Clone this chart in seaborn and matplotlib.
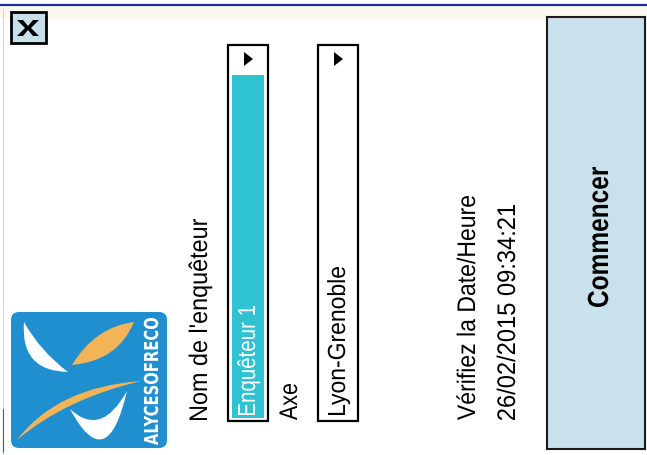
import numpy as np
import matplotlib
matplotlib.use("Agg")
import matplotlib.pyplot as plt
import seaborn as sns
from matplotlib.patches import Rectangle, Polygon, FancyBboxPatch, PathPatch
from matplotlib.path import Path
from matplotlib.textpath import TextPath
from matplotlib.font_manager import FontProperties
from matplotlib.transforms import Affine2D

# Textes de l'écran (formulaire tourné de 90°)
labels = ["Nom de l'enquêteur", "Axe", "Vérifiez la Date/Heure", "26/02/2015 09:34:21"]
label_x = [207, 297, 475, 515]
label_len = [201, 36, 224, 215]
dropdown_values = ["Enquêteur 1", "Lyon-Grenoble"]
dropdown_x = [228, 318]
dropdown_len = [109, 148]
dropdown_selected = [True, False]
button_text = "Commencer"
logo_text = "ALYCESOFRECO"

sns.set_theme(style="white")
plt.rcParams['font.family'] = ['Liberation Sans', 'DejaVu Sans']

fig = plt.figure(figsize=(6.47, 4.56), dpi=100)
ax = fig.add_axes([0, 0, 1, 1])
ax.set_xlim(0, 647)
ax.set_ylim(456, 0)
ax.axis('off')


# texte vertical (lu de bas en haut), étiré comme sur la capture
def vtext(s, xb, ybot, length, cap, color='black', weight='normal', family='Liberation Sans'):
    fp = FontProperties(family=family, weight=weight)
    tp = TextPath((0, 0), s, size=100, prop=fp)
    bb = tp.get_extents()
    hcap = TextPath((0, 0), 'H', size=100, prop=fp).get_extents().height
    sx = length / bb.width
    sy = cap / hcap
    m = np.array([[0, -sy, xb],
                  [-sx, 0, ybot + sx * bb.x0],
                  [0, 0, 1]])
    ax.add_patch(PathPatch(Affine2D(m).transform_path(tp), fc=color, ec='none', lw=0))


# bandeau du haut
ax.add_patch(Rectangle((0, 8), 647, 12, fc='#fcf8ef', ec='none'))
ax.plot([0, 647], [6, 6], color='#1c2c9c', lw=1.6)
ax.plot([3, 3], [10, 456], color='#d4d4d4', lw=0.8)
ax.plot([3, 3], [410, 453], color='#3a5cb8', lw=0.8)

# bouton fermer
ax.add_patch(Rectangle((11, 13), 35, 31, fc='#c8e0ea', ec='black', lw=2))
ax.add_patch(Polygon([(17, 21), (23, 21), (28, 27), (33, 21), (39, 21), (31, 29),
                      (39, 37), (33, 37), (28, 31), (23, 37), (17, 37), (25, 29)],
                     closed=True, fc='black', ec='none'))

# logo
ax.add_patch(FancyBboxPatch((15, 317), 148, 128, boxstyle='round,pad=4,rounding_size=8',
                            fc='#1f8fd0', ec='none'))


def swoosh(p0, c1, p1, c2, color):
    verts = [p0, c1, p1, c2, p0]
    codes = [Path.MOVETO, Path.CURVE3, Path.CURVE3, Path.CURVE3, Path.CURVE3]
    ax.add_patch(PathPatch(Path(verts, codes), fc=color, ec='none'))


swoosh((24, 323), (20, 372), (68, 373), (40, 352), 'white')
swoosh((72, 366), (95, 328), (134, 323), (118, 362), '#f2b457')
swoosh((17, 441), (57, 388), (141, 382), (65, 400), '#f2b457')
swoosh((70, 410), (107, 479), (127, 392), (101, 439), 'white')

vtext(logo_text, 158, 446, 127, 14, color='white', weight='bold', family='DejaVu Sans')

# libellés
for txt, x, ln in zip(labels, label_x, label_len):
    vtext(txt, x, 421, ln, 17.5)

# listes déroulantes
for val, x, ln, sel in zip(dropdown_values, dropdown_x, dropdown_len, dropdown_selected):
    ax.add_patch(Rectangle((x, 46), 40, 376, fc='white', ec='black', lw=1.6))
    if sel:
        ax.add_patch(Rectangle((x + 4, 76), 32, 343, fc='#2fc2d2', ec='none'))
    ax.add_patch(Polygon([(x + 16, 53), (x + 16, 67), (x + 25, 60)], closed=True, fc='black', ec='none'))
    vtext(val, x + 27, 416, ln, 17, color='white' if sel else 'black')

# bouton
ax.add_patch(Rectangle((547, 18), 98, 432, fc='#c9e1ea', ec='#1a1a1a', lw=1.5))
vtext(button_text, 608, 308, 140, 20, weight='bold')

fig.savefig('out.png', dpi=100)
